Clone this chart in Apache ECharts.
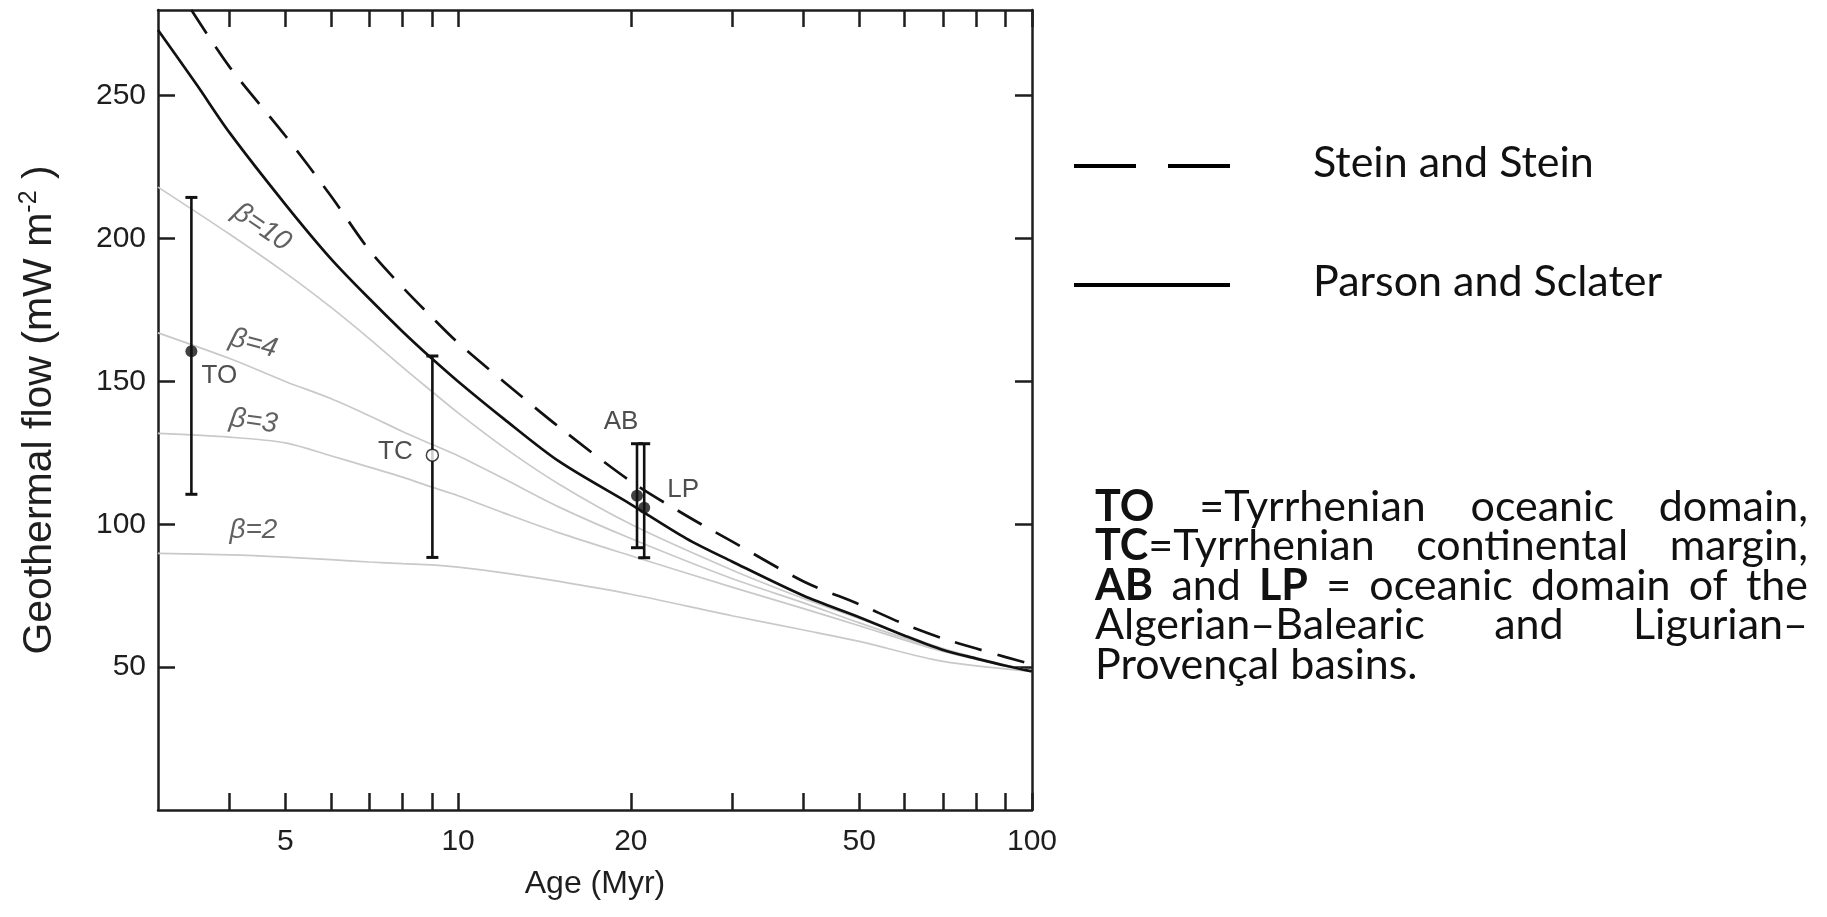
<!DOCTYPE html>
<html><head><meta charset="utf-8">
<script src="https://cdn.jsdelivr.net/npm/echarts@6/dist/echarts.min.js"></script>
<style>html,body{margin:0;padding:0;background:#fff;}#c{width:1827px;height:917px;}</style>
</head><body><div id="c"></div>
<script>
// ---------- data ----------
const psAges   = [3, 3.5, 4, 5, 6, 7, 8, 9, 10, 12, 15, 20, 25, 30, 40, 50, 60, 70, 80, 90, 100];
const psFlow   = [273, 254, 237, 212, 193, 179, 167.5, 158, 150, 137, 122, 107, 95, 87, 75, 67.5, 61, 56, 53, 50.5, 48.5];
const ssAges   = [3.43, 4, 5, 6, 7, 8, 9, 10, 12, 15, 20, 25, 30, 40, 50, 60, 70, 80, 90, 100];
const ssFlow   = [280, 260, 236, 215, 196, 183, 172.5, 163.5, 150, 134, 115, 103, 94, 80, 72, 65, 60, 56.5, 53.5, 51];
const betaAges = [3, 4, 5, 6, 7, 8, 9, 10, 12, 15, 20, 30, 40, 50, 70, 100];
const beta10   = [218, 201.5, 188, 176, 165, 155, 146.5, 139, 127, 114, 100, 84, 74, 67, 56.5, 48.5];
const beta4    = [167, 158, 150, 144, 138, 132.5, 128, 124, 116, 106, 95, 81, 72.5, 65.5, 56, 48.5];
const beta3    = [131.8, 130.5, 128.5, 124, 120, 116.5, 113, 110, 104, 97, 89, 78, 70.5, 64.5, 55.5, 48.5];
const beta2    = [89.8, 89.3, 88.5, 87.6, 86.8, 86.2, 85.8, 85, 83, 80, 75.5, 68, 63, 59, 52, 48.5];
const betaNames = ['β=10', 'β=4', 'β=3', 'β=2'];
const betaLabelAge  = [4.55, 4.4, 4.4, 4.4];
const betaLabelFlow = [204, 163.3, 136, 98];

const obsNames = ['TO', 'TC', 'AB', 'LP'];
const obsAge   = [3.43, 9.02, 20.5, 21.1];
const obsFlow  = [160.6, 124.2, 110, 105.8];
const obsLow   = [110.5, 88.4, 91.8, 88.3];
const obsHigh  = [214.4, 158.9, 128.2, 128.2];
const obsOpen  = [false, true, false, false];

const xTickValues  = [4, 5, 6, 7, 8, 9, 10, 20, 30, 40, 50, 60, 70, 80, 90, 100];
const xLabelValues = [5, 10, 20, 50, 100];
const yTickValues  = [50, 100, 150, 200, 250];
const X_MIN = 3, X_MAX = 100;

const legendNames = ['Stein and Stein', 'Parson and Sclater'];
const captionLines = [
  [[['TO', true]], [['=Tyrrhenian', false]], [['oceanic', false]], [['domain,', false]]],
  [[['TC', true], ['=Tyrrhenian', false]], [['continental', false]], [['margin,', false]]],
  [[['AB', true]], [['and', false]], [['LP', true]], [['=', false]], [['oceanic', false]], [['domain', false]], [['of', false]], [['the', false]]],
  [[['Algerian–Balearic', false]], [['and', false]], [['Ligurian–', false]]],
  [[['Provençal basins.', false]]]
];

// ---------- styles / layout ----------
const FONT = 'Liberation Sans';
const INK = '#1e1e1e';
const labelOffsets = [[28, 25], [-37, -3], [-16, -74], [39, -18]];
const betaRot = [-34, -15, -8, 0];

const chart = echarts.init(document.getElementById('c'), null, {renderer: 'canvas'});
const pairs = (xs, ys) => xs.map((x, i) => [x, ys[i]]);

const axisCommon = {
  axisLine: {show: true, onZero: false, lineStyle: {color: INK, width: 2.5}},
  splitLine: {show: false},
  minorTick: {show: false}
};
const tickStyle = {show: true, inside: true, length: 17, lineStyle: {color: INK, width: 2.5}};

const xBottom = Object.assign({}, axisCommon, {
  type: 'log', logBase: 10, min: X_MIN, max: X_MAX, position: 'bottom',
  axisTick: Object.assign({customValues: xTickValues}, tickStyle),
  axisLabel: {customValues: xLabelValues, fontFamily: FONT, fontSize: 30, color: INK, margin: 17},
  name: 'Age (Myr)', nameLocation: 'middle', nameGap: 58,
  nameTextStyle: {fontFamily: FONT, fontSize: 32, color: INK}
});
// mirrored frame axis on top: same log scale expressed in log10 units
const xTop = Object.assign({}, axisCommon, {
  type: 'value', min: Math.log10(X_MIN), max: Math.log10(X_MAX), position: 'top',
  axisTick: Object.assign({customValues: xTickValues.map(v => Math.log10(v))}, tickStyle),
  axisLabel: {show: false}
});
function yAxisDef(pos, showLabel) {
  return Object.assign({}, axisCommon, {
    type: 'value', min: 0, max: 280, position: pos,
    axisTick: Object.assign({customValues: yTickValues}, tickStyle),
    axisLabel: {show: showLabel, customValues: yTickValues, fontFamily: FONT, fontSize: 30, color: INK, margin: 12},
    name: showLabel ? '{a|Geothermal flow (mW m}{s|-2}{a| )}' : '', nameLocation: 'middle', nameGap: 96, nameRotate: 90,
    nameTextStyle: {color: INK, rich: {
      a: {fontFamily: FONT, fontSize: 41, color: INK, lineHeight: 45},
      s: {fontFamily: FONT, fontSize: 25, color: INK, verticalAlign: 'top', lineHeight: 45}
    }}
  });
}

const greyLine = (name, data) => ({
  type: 'line', name, data, showSymbol: false, smooth: 0.3,
  lineStyle: {color: '#c9c9c9', width: 1.7}, z: 2, silent: true
});

const series = [
  greyLine('β=10', pairs(betaAges, beta10)),
  greyLine('β=4', pairs(betaAges, beta4)),
  greyLine('β=3', pairs(betaAges, beta3)),
  greyLine('β=2', pairs(betaAges, beta2)),
  {
    type: 'line', name: legendNames[1], data: pairs(psAges, psFlow), showSymbol: false,
    smooth: 0.3, lineStyle: {color: '#111', width: 2.7}, z: 4
  },
  {
    type: 'line', name: legendNames[0], data: pairs(ssAges, ssFlow), showSymbol: false,
    smooth: 0.3, lineStyle: {color: '#111', width: 2.7, type: [28, 16]}, z: 4
  },
  {
    type: 'custom', name: 'error bars',
    data: obsAge.map((a, i) => [a, obsLow[i], obsHigh[i]]),
    encode: {x: 0, y: [1, 2]},
    z: 6,
    renderItem(params, api) {
      const x = api.value(0);
      const pLo = api.coord([x, api.value(1)]);
      const pHi = api.coord([x, api.value(2)]);
      const cw = 6;
      return {type: 'group', children: [
        {type: 'line', shape: {x1: pLo[0], y1: pLo[1], x2: pHi[0], y2: pHi[1]}, style: {stroke: '#111', lineWidth: 2.6}},
        {type: 'line', shape: {x1: pLo[0] - cw, y1: pLo[1], x2: pLo[0] + cw, y2: pLo[1]}, style: {stroke: '#111', lineWidth: 3}},
        {type: 'line', shape: {x1: pHi[0] - cw, y1: pHi[1], x2: pHi[0] + cw, y2: pHi[1]}, style: {stroke: '#111', lineWidth: 3}}
      ]};
    }
  },
  {
    type: 'scatter', name: 'observations', z: 8, symbol: 'circle', symbolSize: 12,
    data: obsAge.map((a, i) => ({
      value: [a, obsFlow[i]],
      itemStyle: obsOpen[i] ? {color: '#fff', borderColor: '#111', borderWidth: 1.5} : {color: '#111'},
      label: {show: true, formatter: obsNames[i], position: 'inside', offset: labelOffsets[i],
        fontFamily: FONT, fontSize: 26, color: '#222'}
    }))
  },
  {
    type: 'scatter', name: 'beta labels', z: 3, symbolSize: 0, silent: true,
    data: betaNames.map((n, i) => ({
      value: [betaLabelAge[i], betaLabelFlow[i]],
      label: {show: true, formatter: n, position: 'inside', rotate: betaRot[i],
        fontFamily: FONT, fontSize: 28, fontStyle: 'italic', color: '#3a3a3a'}
    }))
  }
];

// ---------- legend + caption (graphic) ----------
const CAP_FONT = 'Lato';
const CAP_SIZE = 43;
const LEG_SIZE = 43;
const capLeft = 1095, capRight = 1808, capY0 = 507, capDY = 39.5;
const mctx = document.createElement('canvas').getContext('2d');
function measure(t, bold) {
  mctx.font = (bold ? 'bold ' : '') + CAP_SIZE + 'px ' + CAP_FONT;
  return mctx.measureText(t).width;
}
const graphics = [];
function textEl(x, y, text, bold, size) {
  return {type: 'text', x: x, y: y, silent: true, style: {
    text: text, font: (bold ? 'bold ' : '') + (size || CAP_SIZE) + 'px ' + CAP_FONT, fill: '#111',
    align: 'left', verticalAlign: 'middle', textAlign: 'left', textVerticalAlign: 'middle'
  }};
}
captionLines.forEach((words, li) => {
  const y = capY0 + li * capDY;
  const widths = words.map(w => w.reduce((s, p) => s + measure(p[0], p[1]), 0));
  const total = widths.reduce((a, b) => a + b, 0);
  const justify = li < captionLines.length - 1 && words.length > 1;
  const gap = justify ? (capRight - capLeft - total) / (words.length - 1) : measure(' ', false);
  let x = capLeft;
  words.forEach((w, wi) => {
    let px = x;
    w.forEach(p => { graphics.push(textEl(px, y, p[0], p[1])); px += measure(p[0], p[1]); });
    x += widths[wi] + gap;
  });
});
// legend
const legX1 = 1074, legX2 = 1230, legTextX = 1313;
const legY = [166, 285];
graphics.push({type: 'line', silent: true, shape: {x1: legX1, y1: legY[0], x2: legX1 + 62, y2: legY[0]}, style: {stroke: '#000', lineWidth: 4}});
graphics.push({type: 'line', silent: true, shape: {x1: legX2 - 62, y1: legY[0], x2: legX2, y2: legY[0]}, style: {stroke: '#000', lineWidth: 4}});
graphics.push({type: 'line', silent: true, shape: {x1: legX1, y1: legY[1], x2: legX2, y2: legY[1]}, style: {stroke: '#000', lineWidth: 4}});
legendNames.forEach((n, i) => graphics.push(textEl(legTextX, legY[i] - 3, n, false, LEG_SIZE)));

chart.setOption({
  animation: false,
  backgroundColor: '#fff',
  grid: {left: 158, right: 795, top: 10, bottom: 107, containLabel: false, outerBoundsMode: 'none'},
  xAxis: [xBottom, xTop],
  yAxis: [yAxisDef('left', true), yAxisDef('right', false)],
  series: series,
  graphic: graphics
});
</script></body></html>
